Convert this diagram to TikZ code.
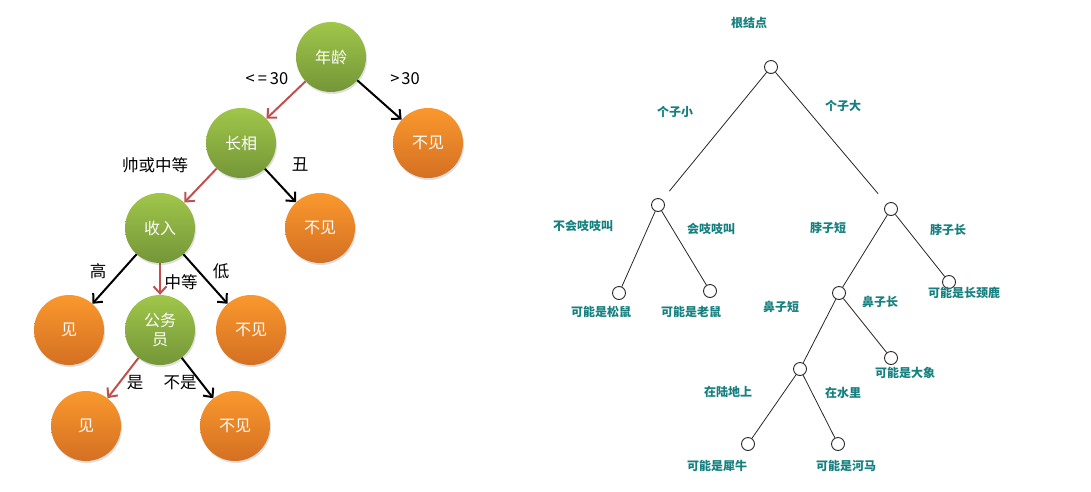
\documentclass[tikz,border=0pt]{standalone}
\usepackage{fontspec}
\newfontfamily\cjk{Noto Sans CJK SC}
\usetikzlibrary{arrows.meta,shadows}
\definecolor{gtop}{RGB}{160,198,74}
\definecolor{gbot}{RGB}{116,150,56}
\definecolor{otop}{RGB}{250,152,46}
\definecolor{obot}{RGB}{212,112,34}
\definecolor{redarr}{RGB}{192,80,77}
\definecolor{teal}{RGB}{22,128,128}
\tikzset{
  x=1pt,y=-1pt,
  ball/.style={circle,minimum size=70pt,inner sep=0pt,text=white,font=\cjk\fontsize{16}{19}\selectfont,align=center,
    drop shadow={opacity=0.25,shadow xshift=1pt,shadow yshift=-2pt}},
  gball/.style={ball,shading=axis,top color=gtop,bottom color=gbot},
  oball/.style={ball,shading=axis,top color=otop,bottom color=obot},
  arr/.style={line width=2pt,-{Straight Barb[length=7pt,width=13pt,line width=2pt]}},
  redline/.style={arr,draw=redarr},
  blackline/.style={arr,draw=black},
  lab/.style={font=\cjk\fontsize{16.5}{19}\selectfont,text=black,inner sep=0pt},
  dot/.style={circle,draw=black!85,line width=0.9pt,minimum size=13pt,inner sep=0pt,fill=white},
  tl/.style={font=\cjk\bfseries\fontsize{12}{14}\selectfont,text=teal,inner sep=0pt},
  tline/.style={draw=black!85,line width=0.8pt},
}
\begin{document}
\begin{tikzpicture}
\useasboundingbox (0,0) rectangle (1091,491);
% ---------- left tree ----------
\node[gball] (age) at (331,57) {年龄};
\node[gball] (look) at (241,143) {长相};
\node[oball] (n1) at (428,143) {不见};
\node[gball] (inc) at (160,228) {收入};
\node[oball] (n2) at (320,228) {不见};
\node[oball] (y1) at (69,330) {见};
\node[gball] (civ) at (160,330) {公务\\员};
\node[oball] (n3) at (251,330) {不见};
\node[oball] (y2) at (86,426) {见};
\node[oball] (n4) at (235,426) {不见};

\draw[redline] (age) -- (look);
\draw[blackline] (age) -- (n1);
\draw[redline] (look) -- (inc);
\draw[blackline] (look) -- (n2);
\draw[blackline] (inc) -- (y1);
\draw[redline] (inc) -- (civ);
\draw[blackline] (inc) -- (n3);
\draw[redline] (civ) -- (y2);
\draw[blackline] (civ) -- (n4);

\node[lab] (l1) at (267,79) {<\kern3pt=\kern3pt30};
\node[lab] (l2) at (405,79) {>\kern2pt30};
\node[lab] (l3) at (155,165) {帅或中等};
\node[lab] (l4) at (300,165) {丑};
\node[lab] (l5) at (98,271) {高};
\node[lab] (l6) at (181,282) {中等};
\node[lab] (l7) at (221,271) {低};
\node[lab] (l8) at (135,383) {是};
\node[lab] (l9) at (180,383) {不是};

% ---------- right tree ----------
\node[dot] (r) at (771,67) {};
\node[dot] (a) at (658,205) {};
\node[dot] (b) at (891,209) {};
\node[dot] (a1) at (619,293) {};
\node[dot] (a2) at (710,291) {};
\node[dot] (b1) at (839,293) {};
\node[dot] (b2) at (949,282) {};
\node[dot] (c1) at (800,369) {};
\node[dot] (c2) at (891,358) {};
\node[dot] (d1) at (748,444) {};
\node[dot] (d2) at (838,444) {};

\draw[tline,shorten >=11pt] (r) -- (a);
\draw[tline,shorten >=13pt] (r) -- (b);
\draw[tline] (a) -- (a1);
\draw[tline] (a) -- (a2);
\draw[tline] (b) -- (b1);
\draw[tline] (b) -- (b2);
\draw[tline] (b1) -- (c1);
\draw[tline] (b1) -- (c2);
\draw[tline] (c1) -- (d1);
\draw[tline] (c1) -- (d2);

\node[tl] (t0) at (749,23) {根结点};
\node[tl] (t1) at (675,112) {个子小};
\node[tl] (t2) at (843,106) {个子大};
\node[tl] (t3) at (583,226) {不会吱吱叫};
\node[tl] (t4) at (711,229) {会吱吱叫};
\node[tl] (t5) at (828,228) {脖子短};
\node[tl] (t6) at (948,230) {脖子长};
\node[tl] (t7) at (601,312) {可能是松鼠};
\node[tl] (t8) at (691,312) {可能是老鼠};
\node[tl] (t9) at (781,307) {鼻子短};
\node[tl] (t10) at (880,302) {鼻子长};
\node[tl] (t11) at (964,293) {可能是长颈鹿};
\node[tl] (t12) at (905,373) {可能是大象};
\node[tl] (t13) at (728,392) {在陆地上};
\node[tl] (t14) at (843,393) {在水里};
\node[tl] (t15) at (717,466) {可能是犀牛};
\node[tl] (t16) at (846,466) {可能是河马};
\end{tikzpicture}
\end{document}
